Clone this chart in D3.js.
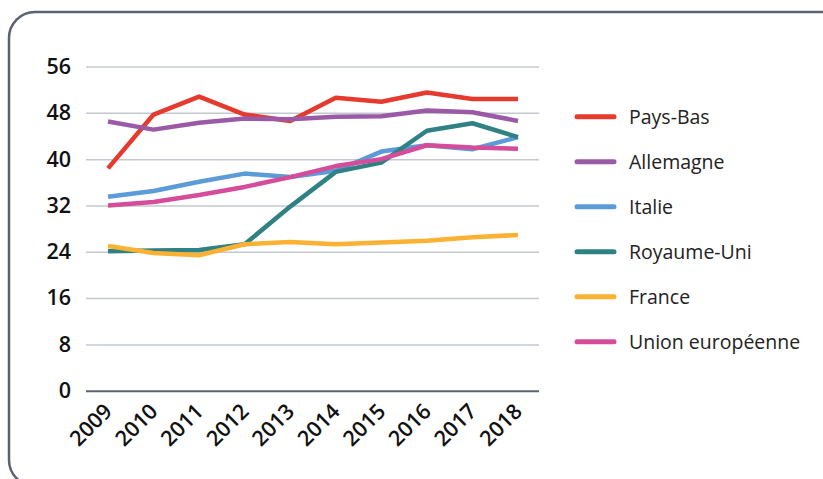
<!DOCTYPE html>
<html><head><meta charset="utf-8">
<script src="https://cdn.jsdelivr.net/npm/d3@7/dist/d3.min.js"></script>
<style>
html,body{margin:0;padding:0;background:#fff;}
svg{display:block;}
</style></head>
<body>
<svg id="chart" width="823" height="479"></svg>
<script>
const years = [2009,2010,2011,2012,2013,2014,2015,2016,2017,2018];
const yTicks = [0,8,16,24,32,40,48,56];
const seriesNames = ["Pays-Bas","Allemagne","Italie","Royaume-Uni","France","Union européenne"];
const seriesColors = ["#e63a2e","#9a5aa6","#5b9bd8","#2f8183","#fbb131","#d54c9b"];
const paysBas   = [38.4,47.7,50.8,47.7,46.6,50.6,49.9,51.5,50.4,50.4];
const allemagne = [46.5,45.1,46.3,47.0,46.9,47.3,47.4,48.4,48.1,46.6];
const italie    = [33.5,34.5,36.1,37.5,36.9,38.0,41.3,42.4,41.7,43.8];
const royaumeUni= [24.1,24.2,24.3,25.3,31.8,37.8,39.4,44.9,46.2,43.8];
const france    = [25.0,23.8,23.4,25.3,25.7,25.3,25.6,25.9,26.5,26.9];
const ue        = [32.0,32.6,33.8,35.2,36.9,38.8,40.0,42.4,42.0,41.8];
const seriesValues = [paysBas,allemagne,italie,royaumeUni,france,ue];

const svg = d3.select("#chart");
const font = "'Open Sans', 'Noto Sans', sans-serif";

// frame
svg.append("rect").attr("x",9).attr("y",12).attr("width",840).attr("height",474)
  .attr("rx",26).attr("ry",26).attr("fill","none").attr("stroke","#5b6272").attr("stroke-width",2.5);

const x = d3.scalePoint().domain(years).range([108,518]);
const y = d3.scaleLinear().domain([0,56]).range([390.7,66.5]);
const gridX0 = 86, gridX1 = 539;

// grid
const yAxis = d3.axisLeft(y).tickValues(yTicks).tickSize(-(gridX1-gridX0)).tickPadding(15);
const gy = svg.append("g").attr("transform",`translate(${gridX0},0)`).call(yAxis);
gy.select(".domain").remove();
gy.selectAll(".tick line").attr("stroke",d=>d===0?"#5b6272":"#c3c7ce").attr("stroke-width",d=>d===0?2:1.5);
gy.selectAll(".tick text").attr("font-family",font).attr("font-size",21.5).attr("font-weight",600).attr("fill","#111");

// x axis labels
const xAxis = d3.axisBottom(x).tickSize(0).tickPadding(0);
const gx = svg.append("g").attr("transform",`translate(0,${y(0)})`).call(xAxis);
gx.select(".domain").remove();
gx.selectAll(".tick text").attr("font-family",font).attr("font-size",21.5).attr("font-weight",600).attr("fill","#111")
  .attr("text-anchor","end").attr("dy",0)
  .attr("transform","translate(5,22) rotate(-45)");

// lines
const line = d3.line().x((d,i)=>x(years[i])).y(d=>y(d));
seriesValues.forEach((vals,k)=>{
  svg.append("path").datum(vals).attr("d",line).attr("fill","none")
    .attr("stroke",seriesColors[k]).attr("stroke-width",4.5)
    .attr("stroke-linejoin","round").attr("stroke-linecap","butt");
});

// legend
const leg = svg.append("g");
seriesNames.forEach((n,k)=>{
  const ly = 116.7 + k*45;
  leg.append("line").attr("x1",577).attr("x2",614).attr("y1",ly).attr("y2",ly)
    .attr("stroke",seriesColors[k]).attr("stroke-width",5).attr("stroke-linecap","round");
  leg.append("text").attr("x",629).attr("y",ly).attr("dy","0.35em")
    .attr("font-family",font).attr("font-size",19.5).attr("fill","#222").text(n);
});
</script>
</body></html>
